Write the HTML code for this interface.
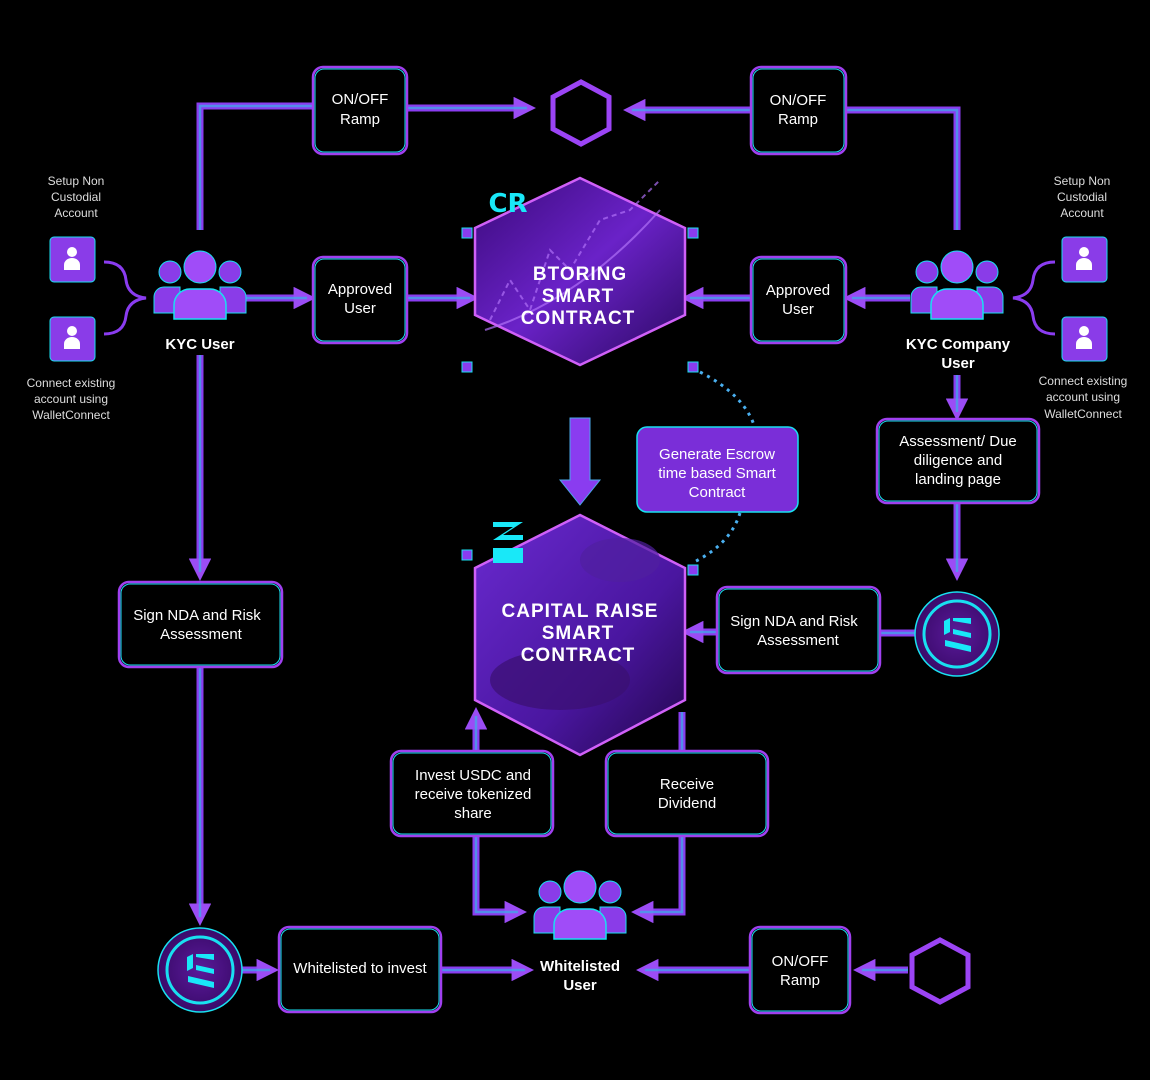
<!DOCTYPE html>
<html><head><meta charset="utf-8"><style>
html,body{margin:0;padding:0;background:#000;}
svg{display:block}
text{font-family:"Liberation Sans",sans-serif;}
.bt{fill:#fff;font-size:15px;text-anchor:middle}
.sm{fill:#ddd;font-size:12px;text-anchor:middle}
.hx{fill:#fff;font-size:19px;font-weight:bold;text-anchor:middle;letter-spacing:1px}
.lb{fill:#fff;font-size:15px;font-weight:bold;text-anchor:middle}
</style></head><body>
<svg width="1150" height="1080" viewBox="0 0 1150 1080" xmlns="http://www.w3.org/2000/svg">
<defs>
<linearGradient id="hg" x1="0" y1="0" x2="1" y2="1"><stop offset="0" stop-color="#3a0a7a"/><stop offset="0.5" stop-color="#6a22c8"/><stop offset="1" stop-color="#2a0860"/></linearGradient>
<linearGradient id="hg2" x1="0" y1="0" x2="1" y2="1"><stop offset="0" stop-color="#6a2ad0"/><stop offset="0.6" stop-color="#4a16a0"/><stop offset="1" stop-color="#22064a"/></linearGradient>
<radialGradient id="cg"><stop offset="0" stop-color="#5a1a9a"/><stop offset="1" stop-color="#3a0a6a"/></radialGradient>
<marker id="ah" viewBox="0 0 10 10" refX="6" refY="5" markerWidth="3.2" markerHeight="3.2" orient="auto"><path d="M0,0 L10,5 L0,10 z" fill="#9b4cf5"/></marker>
<g id="person"><circle cx="0" cy="-8" r="5" fill="#fff"/><path d="M-8,10 v-5 a8,7 0 0 1 16,0 v5 z" fill="#fff"/></g>
<g id="grp">
<circle cx="-30" cy="-21" r="11" fill="#8a3ce8" stroke="#19e0f0" stroke-width="1"/>
<circle cx="30" cy="-21" r="11" fill="#8a3ce8" stroke="#19e0f0" stroke-width="1"/>
<path d="M-46,20 v-16 a10,10 0 0 1 10,-10 h16 v26 z" fill="#8a3ce8" stroke="#19e0f0" stroke-width="1"/>
<path d="M46,20 v-16 a10,10 0 0 0 -10,-10 h-16 v26 z" fill="#8a3ce8" stroke="#19e0f0" stroke-width="1"/>
<circle cx="0" cy="-26" r="16" fill="#a04cf8" stroke="#19e0f0" stroke-width="1"/>
<path d="M-26,26 v-14 a16,16 0 0 1 16,-16 h20 a16,16 0 0 1 16,16 v14 z" fill="#a04cf8" stroke="#19e0f0" stroke-width="1.5"/>
</g>
<g id="logo">
<circle r="42" fill="url(#cg)" stroke="#19e0f0" stroke-width="1.5"/>
<circle r="33" fill="none" stroke="#19e0f0" stroke-width="3"/>
<path d="M-13,-13 l6,-3 v14 l-6,3z M-4,-16 h18 v6 l-18,-3z M-4,-5 l18,4 v5 l-18,-4z M-12,6 l26,6 v6 l-26,-6z" fill="#19e8f8"/>
</g>
<g id="conn">
<path d="M200,230 V106 H313"/>
<path d="M407,108 H527"/>
<path d="M751,110 H632"/>
<path d="M846,110 H957 V230"/>
<path d="M246,298 H307"/>
<path d="M407,298 H470"/>
<path d="M751,298 H690"/>
<path d="M910,298 H852"/>
<path d="M200,355 V572"/>
<path d="M200,667 V917"/>
<path d="M957,375 V412"/>
<path d="M957,503 V572"/>
<path d="M915,633 H880"/>
<path d="M717,632 H690"/>
<path d="M242,970 H270"/>
<path d="M441,970 H525"/>
<path d="M750,970 H645"/>
<path d="M908,970 H862"/>
<path d="M476,751 V716"/>
<path d="M476,836 V912 H518"/>
<path d="M682,712 V751"/>
<path d="M682,836 V912 H640"/>
</g>
</defs>

<!-- connectors -->
<g fill="none" stroke="#8a3cf0" stroke-width="7">
<path d="M200,230 V106 H313"/>
<path d="M407,108 H527" marker-end="url(#ah)"/>
<path d="M751,110 H632" marker-end="url(#ah)"/>
<path d="M846,110 H957 V230"/>
<path d="M246,298 H307" marker-end="url(#ah)"/>
<path d="M407,298 H470" marker-end="url(#ah)"/>
<path d="M751,298 H690" marker-end="url(#ah)"/>
<path d="M910,298 H852" marker-end="url(#ah)"/>
<path d="M200,355 V572" marker-end="url(#ah)"/>
<path d="M200,667 V917" marker-end="url(#ah)"/>
<path d="M957,375 V412" marker-end="url(#ah)"/>
<path d="M957,503 V572" marker-end="url(#ah)"/>
<path d="M915,633 H880"/>
<path d="M717,632 H690" marker-end="url(#ah)"/>
<path d="M242,970 H270" marker-end="url(#ah)"/>
<path d="M441,970 H525" marker-end="url(#ah)"/>
<path d="M750,970 H645" marker-end="url(#ah)"/>
<path d="M908,970 H862" marker-end="url(#ah)"/>
<path d="M476,751 V716" marker-end="url(#ah)"/>
<path d="M476,836 V912 H518" marker-end="url(#ah)"/>
<path d="M682,712 V751"/>
<path d="M682,836 V912 H640" marker-end="url(#ah)"/>
</g>
<use href="#conn" fill="none" stroke="#40a8e8" stroke-width="2.5" opacity="0.75"/>

<!-- big down arrow -->
<path d="M570,418 h20 v62 h10 l-20,25 l-20,-25 h10z" fill="#8a3cf0" stroke="#4aa8e8" stroke-width="1"/>
<!-- dotted arcs -->
<path d="M700,372 Q745,395 755,428" fill="none" stroke="#4ab0f0" stroke-width="3" stroke-dasharray="3,5"/>
<path d="M740,513 Q730,545 692,563" fill="none" stroke="#4ab0f0" stroke-width="3" stroke-dasharray="3,5"/>

<!-- braces -->
<g fill="none" stroke="#8a3cf0" stroke-width="3">
<path d="M104,262 q20,0 22,18 q2,16 20,18 q-18,2 -20,18 q-2,18 -22,18"/>
<path d="M1055,262 q-20,0 -22,18 q-2,16 -20,18 q18,2 20,18 q2,18 22,18"/>
</g>

<!-- boxes -->
<g fill="#000" stroke="#a040f0" stroke-width="2.5">
<rect x="313" y="67" width="94" height="87" rx="10"/>
<rect x="751" y="67" width="95" height="87" rx="10"/>
<rect x="313" y="257" width="94" height="86" rx="10"/>
<rect x="751" y="257" width="95" height="86" rx="10"/>
<rect x="877" y="419" width="162" height="84" rx="10"/>
<rect x="119" y="582" width="163" height="85" rx="10"/>
<rect x="717" y="587" width="163" height="86" rx="10"/>
<rect x="391" y="751" width="162" height="85" rx="10"/>
<rect x="606" y="751" width="162" height="85" rx="10"/>
<rect x="279" y="927" width="162" height="85" rx="10"/>
<rect x="750" y="927" width="100" height="86" rx="10"/>
</g>
<g fill="none" stroke="#19e0f0" stroke-width="1">
<rect x="315" y="69" width="90" height="83" rx="9"/>
<rect x="753" y="69" width="91" height="83" rx="9"/>
<rect x="315" y="259" width="90" height="82" rx="9"/>
<rect x="753" y="259" width="91" height="82" rx="9"/>
<rect x="879" y="421" width="158" height="80" rx="9"/>
<rect x="121" y="584" width="159" height="81" rx="9"/>
<rect x="719" y="589" width="159" height="82" rx="9"/>
<rect x="393" y="753" width="158" height="81" rx="9"/>
<rect x="608" y="753" width="158" height="81" rx="9"/>
<rect x="281" y="929" width="158" height="81" rx="9"/>
<rect x="752" y="929" width="96" height="82" rx="9"/>
</g>
<rect x="637" y="427" width="161" height="85" rx="10" fill="#7a2ed8" stroke="#19e0f0" stroke-width="1.5"/>

<!-- hex outlines -->
<polygon points="581,82 609,97 609,129 581,144 553,129 553,97" fill="none" stroke="#9b44f5" stroke-width="5"/>
<polygon points="940,940 968,955 968,987 940,1002 912,987 912,955" fill="none" stroke="#9b44f5" stroke-width="5"/>

<!-- big hexes -->
<polygon points="580,178 685,228 685,315 580,365 475,315 475,228" fill="url(#hg)" stroke="#d060f8" stroke-width="2.5"/>
<g stroke="#b070f8" stroke-width="2" fill="none" opacity="0.7">
<path d="M485,330 Q580,300 660,210"/><path d="M490,320 l20,-40 l20,30 l20,-60 l20,20 l30,-50 l30,-10 l30,-30" stroke-dasharray="5,4"/>
</g>
<polygon points="580,515 685,568 685,700 580,755 475,700 475,568" fill="url(#hg2)" stroke="#d060f8" stroke-width="2.5"/>
<ellipse cx="560" cy="680" rx="70" ry="30" fill="#3a1070" opacity="0.7"/>
<ellipse cx="620" cy="560" rx="40" ry="22" fill="#5020a0" opacity="0.7"/>
<g fill="#8a3cf0" stroke="#19e0f0" stroke-width="1">
<rect x="462" y="228" width="10" height="10"/><rect x="688" y="228" width="10" height="10"/>
<rect x="462" y="362" width="10" height="10"/><rect x="688" y="362" width="10" height="10"/>
<rect x="462" y="550" width="10" height="10"/><rect x="688" y="565" width="10" height="10"/>
</g>
<text x="508" y="212" fill="#19e8f8" font-size="26" font-weight="bold" text-anchor="middle" style="font-family:'DejaVu Sans',sans-serif">CR</text>
<path d="M493,522 h30 l-20,13 h20 v5 h-30 l20,-13 h-20z M493,548 h30 v15 h-30z" fill="#19e8f8"/>
<text class="hx" x="580" y="280">BTORING</text>
<text class="hx" x="578" y="302">SMART</text>
<text class="hx" x="578" y="324">CONTRACT</text>
<text class="hx" x="580" y="617">CAPITAL RAISE</text>
<text class="hx" x="578" y="639">SMART</text>
<text class="hx" x="578" y="661">CONTRACT</text>

<!-- box texts -->
<text class="bt" x="360" y="104">ON/OFF</text><text class="bt" x="360" y="124">Ramp</text>
<text class="bt" x="798" y="105">ON/OFF</text><text class="bt" x="798" y="124">Ramp</text>
<text class="bt" x="360" y="294">Approved</text><text class="bt" x="360" y="313">User</text>
<text class="bt" x="798" y="295">Approved</text><text class="bt" x="798" y="314">User</text>
<text class="bt" x="717" y="459">Generate Escrow</text><text class="bt" x="717" y="478">time based Smart</text><text class="bt" x="717" y="497">Contract</text>
<text class="bt" x="958" y="446">Assessment/ Due</text><text class="bt" x="958" y="465">diligence and</text><text class="bt" x="958" y="484">landing page</text>
<text class="bt" x="197" y="620">Sign NDA and Risk</text><text class="bt" x="201" y="639">Assessment</text>
<text class="bt" x="794" y="626">Sign NDA and Risk</text><text class="bt" x="798" y="645">Assessment</text>
<text class="bt" x="473" y="780">Invest USDC and</text><text class="bt" x="473" y="799">receive tokenized</text><text class="bt" x="473" y="818">share</text>
<text class="bt" x="687" y="789">Receive</text><text class="bt" x="687" y="808">Dividend</text>
<text class="bt" x="360" y="973">Whitelisted to invest</text>
<text class="bt" x="800" y="966">ON/OFF</text><text class="bt" x="800" y="985">Ramp</text>

<!-- people -->
<use href="#grp" x="200" y="293"/>
<use href="#grp" x="957" y="293"/>
<use href="#grp" x="580" y="913"/>
<text class="lb" x="200" y="349">KYC User</text>
<text class="lb" x="958" y="349">KYC Company</text><text class="lb" x="958" y="368">User</text>
<text class="lb" x="580" y="971">Whitelisted</text><text class="lb" x="580" y="990">User</text>

<!-- small person boxes -->
<g fill="#8a3ce8" stroke="#19e0f0" stroke-width="1">
<rect x="50" y="237" width="45" height="45" rx="4"/><rect x="50" y="317" width="45" height="44" rx="4"/>
<rect x="1062" y="237" width="45" height="45" rx="4"/><rect x="1062" y="317" width="45" height="44" rx="4"/>
</g>
<use href="#person" x="72" y="260"/><use href="#person" x="72" y="339"/>
<use href="#person" x="1084" y="260"/><use href="#person" x="1084" y="339"/>
<text class="sm" x="76" y="185">Setup Non</text><text class="sm" x="76" y="201">Custodial</text><text class="sm" x="76" y="217">Account</text>
<text class="sm" x="71" y="387">Connect existing</text><text class="sm" x="71" y="403">account using</text><text class="sm" x="71" y="419">WalletConnect</text>
<text class="sm" x="1082" y="185">Setup Non</text><text class="sm" x="1082" y="201">Custodial</text><text class="sm" x="1082" y="217">Account</text>
<text class="sm" x="1083" y="385">Connect existing</text><text class="sm" x="1083" y="401">account using</text><text class="sm" x="1083" y="418">WalletConnect</text>

<use href="#logo" x="957" y="634"/>
<use href="#logo" x="200" y="970"/>
</svg>
</body></html>
